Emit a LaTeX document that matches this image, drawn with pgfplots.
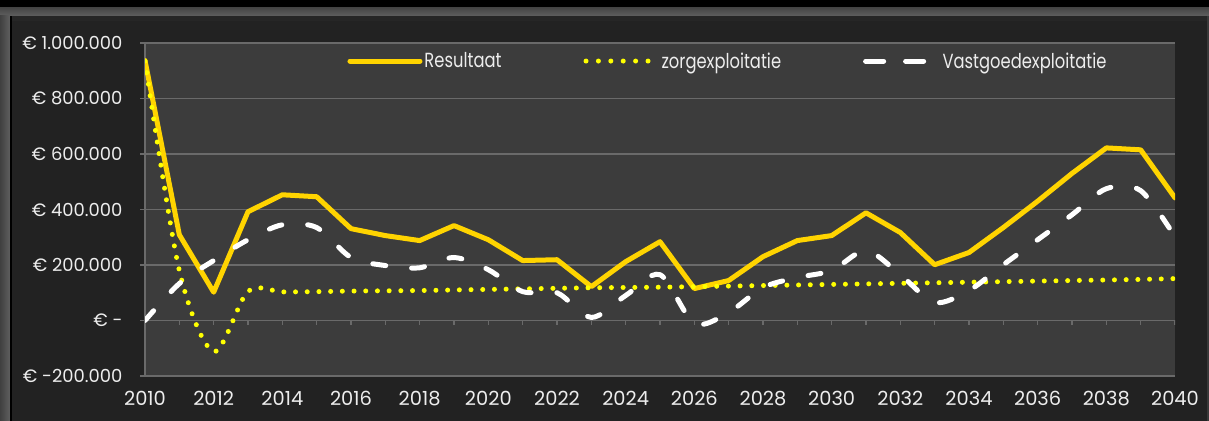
\documentclass[border=0pt]{standalone}
\usepackage{fontspec}
\setmainfont{Poppins}
\usepackage{graphicx}
\usepackage{pgfplots}
\pgfplotsset{compat=1.18}
\definecolor{frameIn}{HTML}{222222}
\definecolor{plotBg}{HTML}{3C3C3C}
\definecolor{gridC}{HTML}{6A6A6A}
\definecolor{resC}{HTML}{FFD400}
\definecolor{zorgC}{HTML}{FFFF00}
\definecolor{txtC}{HTML}{EDEDED}
\newcommand{\legtxt}[1]{\scalebox{0.8}[1]{#1}}
\begin{document}
\begin{tikzpicture}
\useasboundingbox (0bp,0bp) rectangle (1209bp,421bp);
\fill[frameIn] (0bp,0bp) rectangle (1209bp,421bp);
\fill[black] (0bp,413bp) rectangle (1209bp,421bp);
\shade[top color=gray!55!black, bottom color=gray!75!black] (0bp,405bp) rectangle (1209bp,413bp);
\fill[black!85] (12bp,400bp) rectangle (1207bp,405bp);
\shade[left color=gray!50!black, right color=gray!75!black] (0bp,0bp) rectangle (10bp,405bp);
\fill[black] (10bp,0bp) rectangle (12bp,405bp);
\fill[gray!45!black] (1207bp,0bp) rectangle (1209bp,405bp);
\begin{axis}[
  at={(145bp,45bp)}, anchor=south west,
  scale only axis, width=1030bp, height=333bp,
  xmin=2010, xmax=2040, ymin=-200000, ymax=1000000,
  scaled y ticks=false,
  axis background/.style={fill=plotBg},
  axis y line*=left, axis x line*=bottom,
  x axis line style={draw=none},
  y axis line style={draw=gridC, line width=1.5bp},
  xtick={2010,2012,...,2040},
  xticklabels={2010,2012,2014,2016,2018,2020,2022,2024,2026,2028,2030,2032,2034,2036,2038,2040},
  major x tick style={draw=none},
  ytick={-200000,0,200000,400000,600000,800000,1000000},
  yticklabels={{€ -200.000},{€ -},{€ 200.000},{€ 400.000},{€ 600.000},{€ 800.000},{€ 1.000.000}},
  ytick align=outside, major tick length=5bp,
  major y tick style={draw=gridC, line width=1.5bp},
  ymajorgrids, major grid style={draw=gridC, line width=1.5bp},
  ticklabel style={text=txtC},
  xticklabel style={font=\fontsize{19.5}{22}\selectfont, yshift=-12bp},
  yticklabel style={font=\fontsize{18}{21}\selectfont, anchor=east, xshift=-14bp},
  legend columns=3,
  legend style={at={(0.1935,0.9458)}, anchor=west, draw=none, fill=none,
    font=\fontsize{20.5}{22}\selectfont, text=txtC,
    /tikz/every even column/.append style={column sep=80bp}},
  legend cell align=left,
]
\draw[gridC, line width=1.5bp] (axis cs:2010,0) -- (axis cs:2040,0);
\pgfplotsinvokeforeach{2011,...,2040}{\draw[gridC, line width=1.5bp] (axis cs:#1,0) -- ++(0bp,-5bp);}
\addplot[resC, line width=5bp, line join=round, line cap=round,
  legend image code/.code={\draw[resC, line width=5bp, line cap=round] (0bp,0bp) -- (70bp,0bp);}]
  coordinates {(2010,937000)(2011,309000)(2012,102000)(2013,392000)(2014,453000)(2015,446000)(2016,331000)(2017,306000)(2018,288000)(2019,342000)(2020,291000)(2021,216000)(2022,219000)(2023,122000)(2024,212000)(2025,284000)(2026,115000)(2027,144000)(2028,230000)(2029,288000)(2030,306000)(2031,388000)(2032,317000)(2033,201000)(2034,245000)(2035,335000)(2036,430000)(2037,530000)(2038,622000)(2039,615000)(2040,442000)};
\addlegendentry{\legtxt{Resultaat}}
\addplot[zorgC, line width=5bp, line cap=round, dash pattern=on 0bp off 11.7bp, smooth, tension=0.5,
  legend image code/.code={\draw[zorgC, line width=5bp, line cap=round, dash pattern=on 0bp off 12.4bp] (0bp,0bp) -- (63bp,0bp); \path (71bp,0bp);}]
  coordinates {(2010,935000)(2011,180000)(2012,-112000)(2013,105000)(2014,103000)(2015,104000)(2016,106000)(2017,107000)(2018,108000)(2019,110000)(2020,112000)(2021,114000)(2022,116000)(2023,118000)(2024,119000)(2025,120000)(2026,122000)(2027,124000)(2028,126000)(2029,128000)(2030,130000)(2031,132000)(2032,134000)(2033,136000)(2034,138000)(2035,140000)(2036,142000)(2037,144000)(2038,146000)(2039,148000)(2040,151000)};
\addlegendentry{\legtxt{zorgexploitatie}}
\addplot[white, line width=5bp, line cap=round, dash pattern=on 13bp off 26bp, smooth, tension=0.5,
  legend image code/.code={\draw[white, line width=5bp, line cap=round, dash pattern=on 18bp off 22bp] (2.5bp,0bp) -- (64bp,0bp); \path (75bp,0bp);}]
  coordinates {(2010,0)(2011,133000)(2012,216000)(2013,291000)(2014,345000)(2015,335000)(2016,227000)(2017,198000)(2018,190000)(2019,227000)(2020,183000)(2021,104000)(2022,100000)(2023,11000)(2024,90000)(2025,165000)(2026,-10000)(2027,29000)(2028,119000)(2029,155000)(2030,180000)(2031,252000)(2032,165000)(2033,65000)(2034,108000)(2035,201000)(2036,291000)(2037,381000)(2038,475000)(2039,468000)(2040,302000)};
\addlegendentry{\legtxt{Vastgoedexploitatie}}
\end{axis}
\end{tikzpicture}
\end{document}
